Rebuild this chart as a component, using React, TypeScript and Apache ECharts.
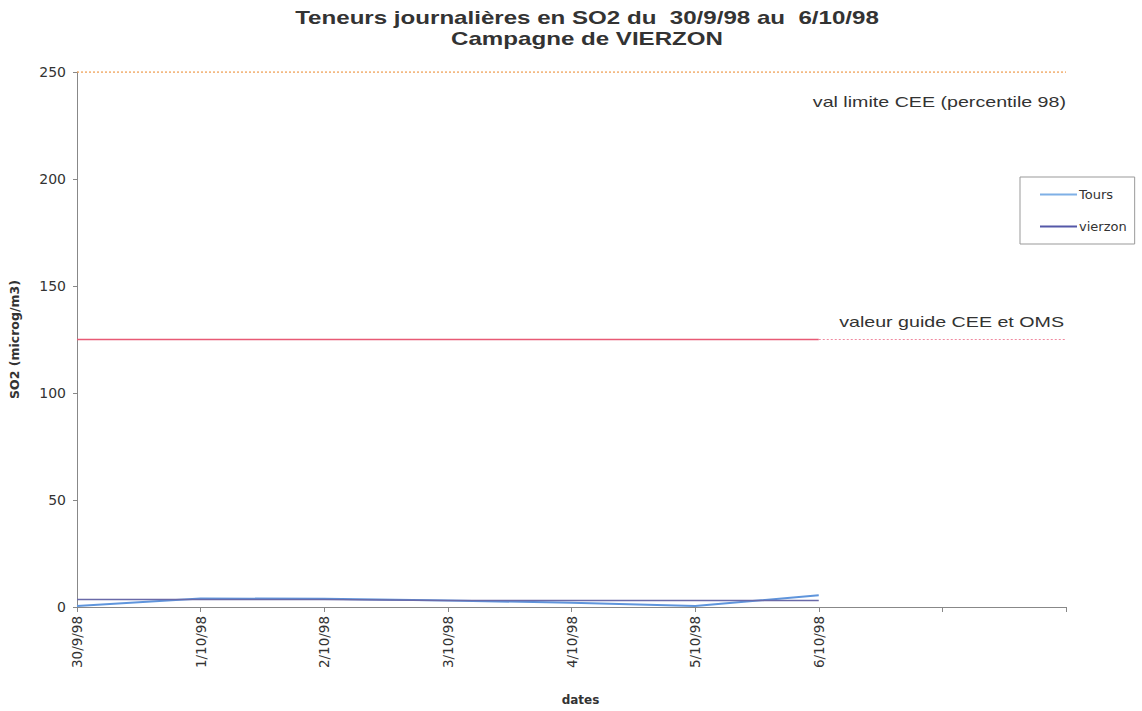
import React, { useEffect, useRef } from "react";
import * as echarts from "echarts";

const dates = ["30/9/98", "1/10/98", "2/10/98", "3/10/98", "4/10/98", "5/10/98", "6/10/98", "", ""];
const tours = [0.5, 4, 3.8, 3, 2, 0.5, 5.5];
const vierzon = [3.5, 3.5, 3.5, 3, 3, 3, 3];
const limite = [250, 250, 250, 250, 250, 250, 250, 250, 250];
const guide = [125, 125, 125, 125, 125, 125, 125];
const guideExt = [null, null, null, null, null, null, 125, 125, 125];
const yTicks = { min: 0, max: 250, interval: 50 };
const titleLines = ["Teneurs journalières en SO2 du  30/9/98 au  6/10/98", "Campagne de VIERZON"];
const annotations = ["val limite CEE (percentile 98)", "valeur guide CEE et OMS"];

export default function App() {
  const ref = useRef<HTMLDivElement>(null);
  useEffect(() => {
    document.body.style.margin = "0";
    const chart = echarts.init(ref.current!, null, { renderer: "svg" });
    const font = "Liberation Sans, Arial, sans-serif";
    const wide = "DejaVu Sans, sans-serif";
    const textEl = (text: string, x: number, y: number, align: string, size: number, weight: string, sx: number) => ({
      type: "text",
      x,
      y,
      scaleX: sx,
      silent: true,
      style: {
        text,
        x: 0,
        y: 0,
        textAlign: align,
        align,
        textVerticalAlign: "middle",
        verticalAlign: "middle",
        fontSize: size,
        fontWeight: weight,
        fontFamily: font,
        fill: "#333",
      },
    });
    chart.setOption({
      animation: false,
      backgroundColor: "#ffffff",
      textStyle: { fontFamily: wide },
      legend: {
        orient: "vertical",
        left: 1020,
        top: 177,
        padding: [11, 8, 11, 20],
        itemGap: 19,
        itemWidth: 37,
        itemHeight: 2,
        icon: "rect",
        borderColor: "#999",
        borderWidth: 1,
        data: ["Tours", "vierzon"],
        textStyle: { fontSize: 13, color: "#333", padding: [0, 0, 0, -3], fontFamily: wide },
      },
      grid: { left: 74, width: 992, top: 72, height: 541, containLabel: false },
      xAxis: {
        type: "category",
        data: dates,
        boundaryGap: false,
        name: "dates",
        nameLocation: "middle",
        nameGap: 87,
        nameTextStyle: { fontSize: 12, fontWeight: "bold", color: "#333", padding: [0, 0, 0, 18], fontFamily: wide },
        axisLine: { lineStyle: { color: "#888", width: 1 } },
        axisTick: { show: true, length: 5, alignWithLabel: true, lineStyle: { color: "#888" } },
        axisLabel: { rotate: 90, fontSize: 13.5, color: "#333", margin: 9, interval: 0, fontFamily: wide },
        splitLine: { show: false },
      },
      yAxis: {
        type: "value",
        min: yTicks.min,
        max: yTicks.max,
        interval: yTicks.interval,
        name: "SO2 (microg/m3)",
        nameLocation: "middle",
        nameGap: 56,
        nameRotate: 90,
        nameTextStyle: { fontSize: 12.5, fontWeight: "bold", color: "#333", fontFamily: wide },
        axisLine: { show: true, lineStyle: { color: "#888", width: 1 } },
        axisTick: { show: true, length: 4, lineStyle: { color: "#888" } },
        axisLabel: { fontSize: 14, color: "#333", margin: 11, fontFamily: wide },
        splitLine: { show: false },
      },
      series: [
        {
          name: "limite",
          type: "line",
          data: limite,
          symbol: "none",
          silent: true,
          lineStyle: { color: "#f0a35a", width: 1.5, type: [2, 2] },
        },
        {
          name: "guide",
          type: "line",
          data: guide,
          symbol: "none",
          silent: true,
          lineStyle: { color: "#e85a75", width: 1.5 },
        },
        {
          name: "guideExt",
          type: "line",
          data: guideExt,
          symbol: "none",
          silent: true,
          lineStyle: { color: "#f08aa0", width: 1.2, type: [2, 2] },
        },
        {
          name: "Tours",
          type: "line",
          data: tours,
          symbol: "none",
          color: "#7fb0e6",
          lineStyle: { color: "#5f95dc", width: 2 },
        },
        {
          name: "vierzon",
          type: "line",
          data: vierzon,
          symbol: "none",
          color: "#5558a8",
          lineStyle: { color: "#6a6aa8", width: 1.5 },
        },
      ],
      graphic: [
        textEl(titleLines[0], 587, 18, "center", 18, "bold", 1.34),
        textEl(titleLines[1], 587, 39, "center", 18, "bold", 1.34),
        textEl(annotations[0], 1066, 102, "right", 15, "normal", 1.31),
        textEl(annotations[1], 1064, 322, "right", 15, "normal", 1.31),
      ],
    });
    return () => chart.dispose();
  }, []);
  return <div ref={ref} style={{ width: 1142, height: 711 }} />;
}
